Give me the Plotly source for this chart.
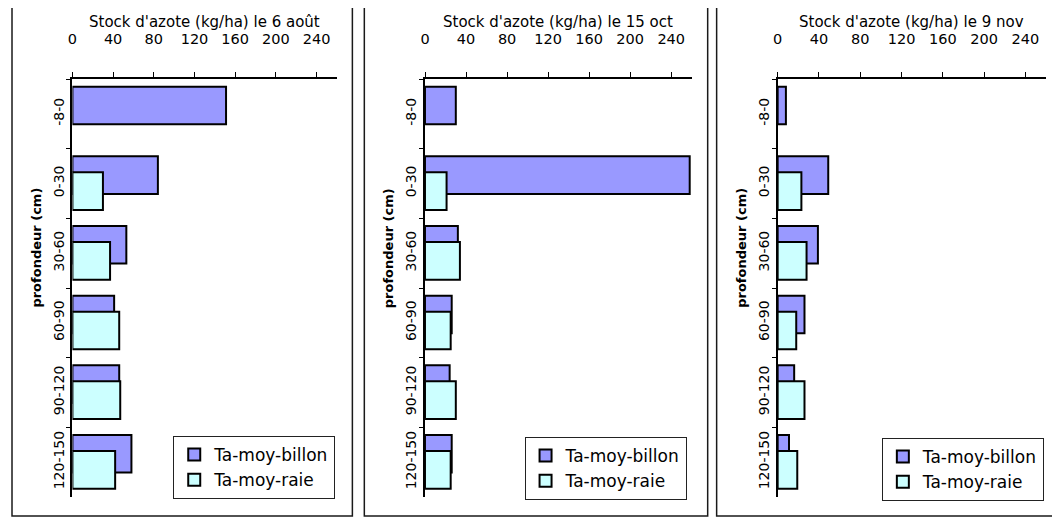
import plotly.graph_objects as go

# depth classes (cm)
depths = ["-8-0", "0-30", "30-60", "60-90", "90-120", "120-150"]
series = ["Ta-moy-billon", "Ta-moy-raie"]
dates = ["6 août", "15 oct", "9 nov"]

# nitrogen stock (kg/ha)
billon_aout = [151, 84, 53, 41, 46, 58]
raie_aout = [None, 30, 37, 46, 47, 42]
billon_oct = [30, 258, 32, 26, 24, 26]
raie_oct = [None, 21, 34, 25, 30, 25]
billon_nov = [8, 49, 39, 26, 16, 11]
raie_nov = [None, 23, 28, 18, 26, 19]

x_ticks = [0, 40, 80, 120, 160, 200, 240]

# the page body has an 8px margin, so the figure is shrunk to fit the window
OFF = 8
W, H = 1060 - OFF, 518 - OFF
FONT = "Comic Sans MS, DejaVu Sans, sans-serif"
col_billon = "#9999FF"
col_raie = "#CCFFFF"


def px(x):
    return (x - OFF) / W


def py(y):
    return 1 - (y - OFF) / H


# pixel layout of the three panels: (axis left, axis right, frame left, frame right)
panels = [
    (67.7, 333.5, 7, 349),
    (422, 690, 361, 706),
    (776.3, 1046, 715, 1063),
]
top, bottom = 79, 497
legend_pos = [(169, 436), (522, 437), (881, 438)]
data = [(billon_aout, raie_aout), (billon_oct, raie_oct), (billon_nov, raie_nov)]

bw = 0.54
fig = go.Figure()
shapes = []
annotations = []

for i, ((a0, a1, f0, f1), (b, r), d) in enumerate(zip(panels, data, dates)):
    sfx = "" if i == 0 else str(i + 1)
    leg = "legend" + sfx
    fig.add_trace(go.Bar(
        y=depths, x=b, orientation="h", name=series[0],
        marker=dict(color=col_billon, line=dict(color="black", width=2)),
        width=bw, offset=-0.12 - bw / 2,
        xaxis="x" + sfx, yaxis="y" + sfx, legend=leg,
    ))
    fig.add_trace(go.Bar(
        y=depths, x=r, orientation="h", name=series[1],
        marker=dict(color=col_raie, line=dict(color="black", width=2)),
        width=bw, offset=0.11 - bw / 2,
        xaxis="x" + sfx, yaxis="y" + sfx, legend=leg,
    ))

    fig.update_layout(**{
        "xaxis" + sfx: dict(
            domain=[px(a0), px(a1)], range=[0, 260], side="top",
            anchor="y" + sfx, tickvals=x_ticks, ticks="outside", ticklen=5,
            tickwidth=1, tickcolor="black", showline=True, linecolor="black",
            linewidth=2, showgrid=False, zeroline=False,
            ticklabelstandoff=22, tickfont=dict(size=14.5, color="black"),
        ),
        "yaxis" + sfx: dict(
            domain=[py(bottom), py(top)], anchor="x" + sfx,
            categoryorder="array", categoryarray=depths,
            range=[5.5, -0.5], tickson="boundaries", ticks="outside",
            ticklen=4, tickwidth=1, tickcolor="black", showline=True,
            linecolor="black", linewidth=2, showgrid=False, zeroline=False,
            tickangle=-90, ticklabelstandoff=1,
            tickfont=dict(size=14, color="black"),
        ),
        leg: dict(
            x=px(legend_pos[i][0]), y=py(legend_pos[i][1]),
            xanchor="left", yanchor="top", bgcolor="white",
            bordercolor="#222", borderwidth=1,
            font=dict(size=17, color="black", family=FONT),
            traceorder="normal", tracegroupgap=0,
        ),
    })

    annotations.append(dict(
        x=px((a0 + a1) / 2 - 0.5), y=py(22), xref="paper", yref="paper",
        text="Stock d'azote (kg/ha) le " + d, showarrow=False,
        font=dict(size=15, color="black"), xanchor="center", yanchor="middle",
    ))
    annotations.append(dict(
        x=px(a0 - 37), y=py(248), xref="paper", yref="paper",
        text="<b>profondeur (cm)</b>", showarrow=False, textangle=-90,
        font=dict(size=13, color="black"), xanchor="center", yanchor="middle",
    ))
    shapes.append(dict(
        type="rect", xref="paper", yref="paper",
        x0=px(f0), x1=px(f1), y0=py(516), y1=py(5),
        line=dict(color="#1a1a1a", width=1.5), layer="below",
    ))

fig.update_layout(
    width=W, height=H,
    margin=dict(l=0, r=0, t=0, b=0),
    barmode="overlay",
    paper_bgcolor="white", plot_bgcolor="white",
    font=dict(family=FONT, size=13, color="black"),
    shapes=shapes, annotations=annotations,
)

fig.write_html("out.html")
